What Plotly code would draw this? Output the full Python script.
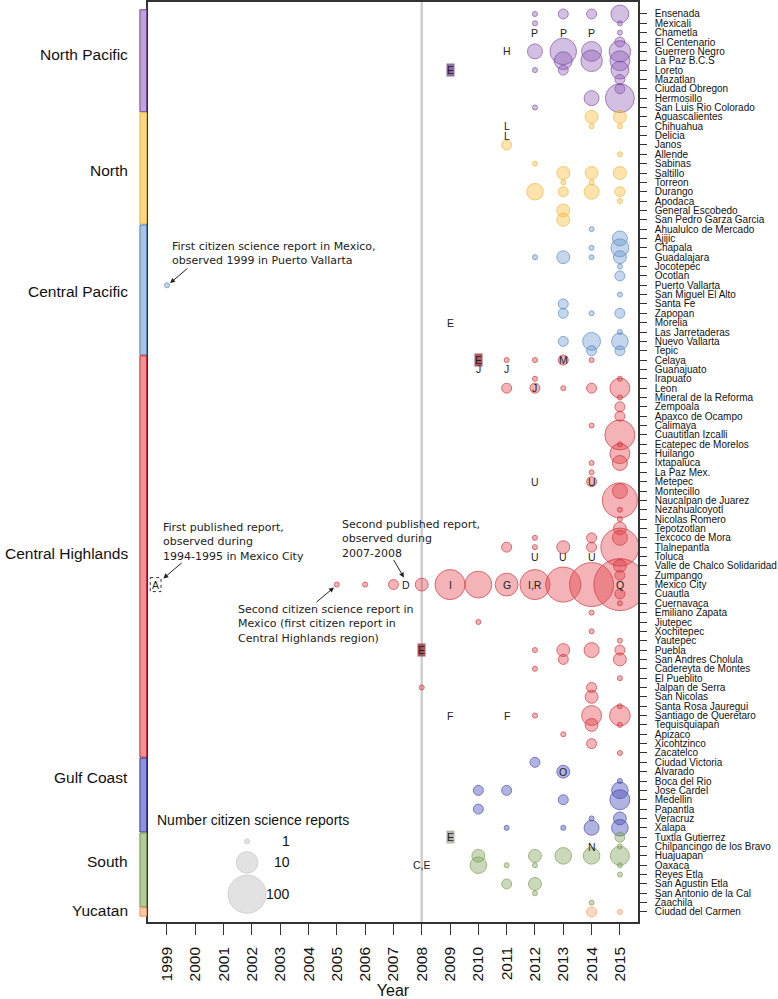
import numpy as np
import plotly.graph_objects as go

# ---------------- data ----------------
north_pacific_cities = ["Ensenada", "Mexicali", "Chametla", "El Centenario", "Guerrero Negro",
                        "La Paz B.C.S", "Loreto", "Mazatlan", "Ciudad Obregon", "Hermosillo",
                        "San Luis Rio Colorado"]
north_cities = ["Aguascalientes", "Chihuahua", "Delicia", "Janos", "Allende", "Sabinas", "Saltillo",
                "Torreon", "Durango", "Apodaca", "General Escobedo", "San Pedro Garza Garcia"]
central_pacific_cities = ["Ahualulco de Mercado", "Ajijic", "Chapala", "Guadalajara", "Jocotepec",
                          "Ocotlan", "Puerto Vallarta", "San Miguel El Alto", "Santa Fe", "Zapopan",
                          "Morelia", "Las Jarretaderas", "Nuevo Vallarta", "Tepic"]
central_highlands_cities = ["Celaya", "Guanajuato", "Irapuato", "Leon", "Mineral de la Reforma",
                            "Zempoala", "Apaxco de Ocampo", "Calimaya", "Cuautitlan Izcalli",
                            "Ecatepec de Morelos", "Huilango", "Ixtapaluca", "La Paz Mex.", "Metepec",
                            "Montecillo", "Naucalpan de Juarez", "Nezahualcoyotl", "Nicolas Romero",
                            "Tepotzotlan", "Texcoco de Mora", "Tlalnepantla", "Toluca",
                            "Valle de Chalco Solidaridad", "Zumpango", "Mexico City", "Cuautla",
                            "Cuernavaca", "Emiliano Zapata", "Jiutepec", "Xochitepec", "Yautepec",
                            "Puebla", "San Andres Cholula", "Cadereyta de Montes", "El Pueblito",
                            "Jalpan de Serra", "San Nicolas", "Santa Rosa Jauregui",
                            "Santiago de Queretaro", "Tequisquiapan", "Apizaco", "Xicohtzinco",
                            "Zacatelco"]
gulf_coast_cities = ["Ciudad Victoria", "Alvarado", "Boca del Rio", "Jose Cardel", "Medellin",
                     "Papantla", "Veracruz", "Xalapa"]
south_cities = ["Tuxtla Gutierrez", "Chilpancingo de los Bravo", "Huajuapan", "Oaxaca", "Reyes Etla",
                "San Agustin Etla", "San Antonio de la Cal", "Zaachila"]
yucatan_cities = ["Ciudad del Carmen"]

years = list(range(1999, 2016))

# (city, year, number of citizen science reports)
north_pacific_reports = [
    ("Ensenada", 2012, 1), ("Ensenada", 2013, 2), ("Ensenada", 2014, 2), ("Ensenada", 2015, 6),
    ("Mexicali", 2012, 1), ("Mexicali", 2015, 1), ("Chametla", 2015, 1), ("El Centenario", 2015, 2),
    ("Guerrero Negro", 2012, 4), ("Guerrero Negro", 2013, 20), ("Guerrero Negro", 2014, 8),
    ("Guerrero Negro", 2015, 10), ("La Paz B.C.S", 2013, 6), ("La Paz B.C.S", 2014, 10),
    ("La Paz B.C.S", 2015, 8), ("Loreto", 2012, 1), ("Loreto", 2013, 2), ("Loreto", 2015, 6),
    ("Mazatlan", 2015, 2), ("Ciudad Obregon", 2015, 2), ("Hermosillo", 2014, 4),
    ("Hermosillo", 2015, 28), ("San Luis Rio Colorado", 2012, 1)]
north_reports = [
    ("Aguascalientes", 2014, 3), ("Aguascalientes", 2015, 3), ("Chihuahua", 2014, 1),
    ("Chihuahua", 2015, 1), ("Janos", 2011, 2), ("Allende", 2015, 1), ("Sabinas", 2012, 1),
    ("Saltillo", 2013, 3), ("Saltillo", 2014, 3), ("Saltillo", 2015, 3), ("Torreon", 2013, 1),
    ("Torreon", 2014, 1), ("Durango", 2012, 5), ("Durango", 2013, 2), ("Durango", 2014, 4),
    ("Durango", 2015, 2), ("Apodaca", 2015, 1), ("General Escobedo", 2013, 3),
    ("San Pedro Garza Garcia", 2013, 3)]
central_pacific_reports = [
    ("Ahualulco de Mercado", 2014, 1), ("Ajijic", 2015, 4), ("Chapala", 2014, 1), ("Chapala", 2015, 6),
    ("Guadalajara", 2012, 1), ("Guadalajara", 2013, 3), ("Guadalajara", 2014, 1),
    ("Guadalajara", 2015, 3), ("Jocotepec", 2015, 1), ("Ocotlan", 2015, 2), ("Puerto Vallarta", 1999, 1),
    ("San Miguel El Alto", 2015, 1), ("Santa Fe", 2013, 2), ("Zapopan", 2013, 2), ("Zapopan", 2014, 1),
    ("Zapopan", 2015, 2), ("Las Jarretaderas", 2015, 1), ("Nuevo Vallarta", 2013, 2),
    ("Nuevo Vallarta", 2014, 6), ("Nuevo Vallarta", 2015, 5), ("Tepic", 2014, 2), ("Tepic", 2015, 2)]
central_highlands_reports = [
    ("Celaya", 2011, 1), ("Celaya", 2012, 1), ("Celaya", 2013, 2), ("Celaya", 2014, 1),
    ("Irapuato", 2012, 1), ("Irapuato", 2015, 1), ("Leon", 2011, 2), ("Leon", 2012, 2), ("Leon", 2013, 1),
    ("Leon", 2014, 2), ("Leon", 2015, 8), ("Mineral de la Reforma", 2015, 1), ("Zempoala", 2015, 2),
    ("Apaxco de Ocampo", 2015, 2), ("Calimaya", 2014, 1), ("Cuautitlan Izcalli", 2015, 33),
    ("Ecatepec de Morelos", 2015, 1), ("Huilango", 2015, 8), ("Ixtapaluca", 2014, 1),
    ("Ixtapaluca", 2015, 4), ("La Paz Mex.", 2014, 1), ("Metepec", 2014, 2), ("Montecillo", 2015, 4),
    ("Naucalpan de Juarez", 2015, 66), ("Nezahualcoyotl", 2015, 1), ("Nicolas Romero", 2015, 1),
    ("Tepotzotlan", 2015, 3), ("Texcoco de Mora", 2012, 1), ("Texcoco de Mora", 2014, 2),
    ("Texcoco de Mora", 2015, 4), ("Tlalnepantla", 2011, 2), ("Tlalnepantla", 2012, 1),
    ("Tlalnepantla", 2013, 3), ("Tlalnepantla", 2014, 2), ("Tlalnepantla", 2015, 100),
    ("Valle de Chalco Solidaridad", 2015, 3), ("Zumpango", 2015, 2),
    ("Mexico City", 2005, 1), ("Mexico City", 2006, 1), ("Mexico City", 2007, 2), ("Mexico City", 2008, 3),
    ("Mexico City", 2009, 33), ("Mexico City", 2010, 21), ("Mexico City", 2011, 12),
    ("Mexico City", 2012, 33), ("Mexico City", 2013, 66), ("Mexico City", 2014, 230),
    ("Mexico City", 2015, 700), ("Cuautla", 2015, 2), ("Cuernavaca", 2015, 1),
    ("Emiliano Zapata", 2014, 1), ("Jiutepec", 2010, 1), ("Xochitepec", 2014, 1), ("Yautepec", 2015, 1),
    ("Puebla", 2012, 1), ("Puebla", 2013, 3), ("Puebla", 2014, 4), ("Puebla", 2015, 2),
    ("San Andres Cholula", 2013, 2), ("San Andres Cholula", 2015, 3), ("Cadereyta de Montes", 2012, 1),
    ("El Pueblito", 2015, 1), ("Jalpan de Serra", 2008, 1), ("Jalpan de Serra", 2014, 2),
    ("San Nicolas", 2014, 3), ("Santa Rosa Jauregui", 2015, 1), ("Santiago de Queretaro", 2012, 1),
    ("Santiago de Queretaro", 2014, 8), ("Santiago de Queretaro", 2015, 9), ("Tequisquiapan", 2014, 3),
    ("Tequisquiapan", 2015, 1), ("Apizaco", 2013, 1), ("Xicohtzinco", 2014, 2), ("Zacatelco", 2015, 1)]
gulf_coast_reports = [
    ("Ciudad Victoria", 2012, 2), ("Alvarado", 2013, 3), ("Boca del Rio", 2015, 1),
    ("Jose Cardel", 2010, 2), ("Jose Cardel", 2011, 2), ("Jose Cardel", 2015, 5), ("Medellin", 2013, 2),
    ("Medellin", 2015, 8), ("Papantla", 2010, 2), ("Veracruz", 2014, 1), ("Veracruz", 2015, 3),
    ("Xalapa", 2011, 1), ("Xalapa", 2013, 1), ("Xalapa", 2014, 4), ("Xalapa", 2015, 5)]
south_reports = [
    ("Tuxtla Gutierrez", 2015, 2), ("Chilpancingo de los Bravo", 2015, 1), ("Huajuapan", 2010, 3),
    ("Huajuapan", 2012, 3), ("Huajuapan", 2013, 5), ("Huajuapan", 2014, 5), ("Huajuapan", 2015, 7),
    ("Oaxaca", 2010, 5), ("Oaxaca", 2011, 1), ("Oaxaca", 2012, 1), ("Oaxaca", 2015, 1),
    ("Reyes Etla", 2015, 1), ("San Agustin Etla", 2011, 2), ("San Agustin Etla", 2012, 3),
    ("San Antonio de la Cal", 2012, 1), ("Zaachila", 2014, 1)]
yucatan_reports = [("Ciudad del Carmen", 2014, 2), ("Ciudad del Carmen", 2015, 1)]

# letter codes for published reports: (text, year, city)
report_codes = [
    ("P", 2012, "Chametla"), ("P", 2013, "Chametla"), ("P", 2014, "Chametla"),
    ("H", 2011, "Guerrero Negro"), ("L", 2011, "Chihuahua"), ("L", 2011, "Delicia"),
    ("E", 2009, "Morelia"), ("J", 2010, "Guanajuato"), ("J", 2011, "Guanajuato"),
    ("J", 2012, "Leon"), ("M", 2013, "Celaya"), ("U", 2012, "Metepec"), ("U", 2014, "Metepec"),
    ("U", 2012, "Toluca"), ("U", 2013, "Toluca"), ("U", 2014, "Toluca"),
    ("D", 2007.45, "Mexico City"), ("I", 2009, "Mexico City"), ("G", 2011, "Mexico City"),
    ("I,R", 2012, "Mexico City"), ("Q", 2015, "Mexico City"),
    ("F", 2009, "Santiago de Queretaro"), ("F", 2011, "Santiago de Queretaro"),
    ("O", 2013, "Alvarado"), ("N", 2014, "Chilpancingo de los Bravo"), ("C,E", 2008, "Oaxaca")]
boxed_codes = [("E", 2009, "Loreto", "rgba(110,60,140,0.75)"),
               ("E", 2010, "Celaya", "rgba(150,35,45,0.75)"),
               ("E", 2008, "Puebla", "rgba(150,35,45,0.75)"),
               ("E", 2009, "Tuxtla Gutierrez", "rgba(120,125,100,0.55)")]

legend_counts = [1, 10, 100]

regions = [
    ("North Pacific", north_pacific_cities, north_pacific_reports, "rgb(118,70,160)", "rgba(140,90,180,0.55)"),
    ("North", north_cities, north_reports, "rgb(242,178,50)", "rgba(255,190,60,0.6)"),
    ("Central Pacific", central_pacific_cities, central_pacific_reports, "rgb(85,130,190)", "rgba(100,150,205,0.55)"),
    ("Central Highlands", central_highlands_cities, central_highlands_reports, "rgb(205,40,50)", "rgba(225,60,70,0.55)"),
    ("Gulf Coast", gulf_coast_cities, gulf_coast_reports, "rgb(60,62,165)", "rgba(70,75,185,0.6)"),
    ("South", south_cities, south_reports, "rgb(118,150,78)", "rgba(130,165,90,0.6)"),
    ("Yucatan", yucatan_cities, yucatan_reports, "rgb(243,150,90)", "rgba(250,165,110,0.6)"),
]
region_label_rows = [4.3, 16.7, 29.7, 57.65, 81.6, 90.6, 95.8]

cities = [c for r in regions for c in r[1]]
row = {c: i for i, c in enumerate(cities)}
N = len(cities)


def bubble_size(n):
    return 5 + 16.5 * np.log10(np.asarray(n, dtype=float))


# ---------------- figure ----------------
fig = go.Figure()
for name, rc, reps, line_col, fill_col in regions:
    fig.add_trace(go.Scatter(
        x=[r[1] for r in reps], y=[row[r[0]] for r in reps], mode="markers", name=name,
        text=[r[0] for r in reps], customdata=[r[2] for r in reps],
        hovertemplate="%{text}, %{x}: %{customdata}<extra></extra>",
        marker=dict(size=bubble_size([r[2] for r in reps]), sizemode="diameter",
                    color=fill_col, line=dict(color=line_col, width=1))))

# size legend
leg_x = 2001.83
leg_rows = [88.45, 90.7, 94.1]
fig.add_trace(go.Scatter(x=[leg_x] * 3, y=leg_rows, mode="markers", hoverinfo="skip",
                         marker=dict(size=bubble_size(legend_counts), color="rgba(200,200,200,0.75)",
                                     line=dict(color="rgba(190,190,190,1)", width=1))))

shapes = []
annotations = []
# vertical line at 2008
shapes.append(dict(type="line", xref="x", yref="paper", x0=2008, x1=2008, y0=0, y1=1,
                   line=dict(color="#cfcfcf", width=2.5), layer="below"))

# region bars and labels
for (name, rc, reps, line_col, fill_col), lr in zip(regions, region_label_rows):
    shapes.append(dict(type="rect", xref="paper", yref="y", x0=-0.0165, x1=-0.003,
                       y0=row[rc[0]] - 0.45, y1=row[rc[-1]] + 0.45,
                       fillcolor=fill_col, line=dict(color=line_col, width=1)))
    annotations.append(dict(text=name, xref="paper", yref="y", x=-0.036, y=lr, xanchor="right",
                            yanchor="middle", showarrow=False,
                            font=dict(family="Liberation Sans, Arial", size=15.5, color="#111")))

letter_font = dict(family="Liberation Sans, Arial", size=10.5, color="#222")
for t, yr, c in report_codes:
    annotations.append(dict(text=t, x=yr, y=row[c], xref="x", yref="y", showarrow=False,
                            font=letter_font, xanchor="center", yanchor="middle"))
for t, yr, c, bg in boxed_codes:
    annotations.append(dict(text=t, x=yr, y=row[c], xref="x", yref="y", showarrow=False,
                            font=letter_font, bgcolor=bg, borderpad=0,
                            xanchor="center", yanchor="middle"))

# "A" in dotted box (first published report)
annotations.append(dict(text="A", x=1998.59, y=row["Mexico City"], showarrow=False,
                        font=letter_font, xanchor="center", yanchor="middle"))
shapes.append(dict(type="rect", xref="x", yref="y", x0=1998.41, x1=1998.79,
                   y0=row["Mexico City"] - 0.75, y1=row["Mexico City"] + 0.75,
                   line=dict(color="#333", width=1, dash="dot")))

note_font = dict(family="DejaVu Sans, Verdana", size=11, color="#222")
notes = [
    ("First citizen science report in Mexico,<br>observed 1999 in Puerto Vallarta", 1999.11, 25.6),
    ("First published report,<br>observed during<br>1994-1995 in Mexico City", 1998.79, 56.45),
    ("Second published report,<br>observed during<br>2007-2008", 2005.12, 56.1),
    ("Second citizen science report in<br>Mexico (first citizen report in<br>Central Highlands region)", 2001.44, 65.2),
]
for t, xx, yy in notes:
    annotations.append(dict(text=t, x=xx, y=yy, xref="x", yref="y", showarrow=False, align="left",
                            xanchor="left", yanchor="middle", font=note_font))
arrows = [(1999.11, 28.77, 19, -16), (1998.87, 60.35, 20, -17),
          (2007.37, 60.25, -11, -19), (2004.9, 61.3, -19, 16)]
for xx, yy, ax, ay in arrows:
    annotations.append(dict(text="", x=xx, y=yy, xref="x", yref="y", showarrow=True, ax=ax, ay=ay,
                            arrowhead=2, arrowsize=1, arrowwidth=1, arrowcolor="#222", standoff=0))

# size legend texts
leg_font = dict(family="Liberation Sans, Arial", size=14, color="#111")
annotations.append(dict(text="Number citizen science reports", x=1998.58, y=86.2, xref="x", yref="y",
                        showarrow=False, xanchor="left", yanchor="middle", font=leg_font))
for cnt, ry in zip(legend_counts, leg_rows):
    annotations.append(dict(text=str(cnt), x=2003.41, y=ry, xref="x", yref="y", showarrow=False,
                            xanchor="right", yanchor="middle", font=leg_font))

fig.update_layout(
    width=778, height=999, margin=dict(l=148, r=140, t=2, b=77),
    plot_bgcolor="white", paper_bgcolor="white", showlegend=False,
    shapes=shapes, annotations=annotations,
    xaxis=dict(range=[1998.33, 2015.64], tickvals=years, ticktext=[str(y) for y in years],
               tickangle=-90, ticks="outside", ticklen=11, tickcolor="#333",
               tickfont=dict(family="Liberation Sans, Arial", size=15.5, color="#111"),
               showline=True, linecolor="#333", linewidth=1.5, mirror=True, showgrid=False,
               zeroline=False, ticklabelstandoff=6, automargin=False,
               title=dict(text="Year", standoff=6,
                          font=dict(family="Liberation Sans, Arial", size=16, color="#111"))),
    yaxis=dict(range=[N - 1 + 1.07, -1.28], tickvals=list(range(N)), ticktext=cities, side="right",
               ticks="outside", ticklen=7, tickcolor="#333",
               tickfont=dict(family="Liberation Sans, Arial", size=10, color="#111"),
               showline=True, linecolor="#333", linewidth=1.5, mirror=True, showgrid=False,
               zeroline=False, ticklabelstandoff=6, automargin=False),
)

fig.write_html("out.html", config={"displayModeBar": False},
               post_script="document.body.style.margin='0px';document.body.style.overflow='hidden';")
